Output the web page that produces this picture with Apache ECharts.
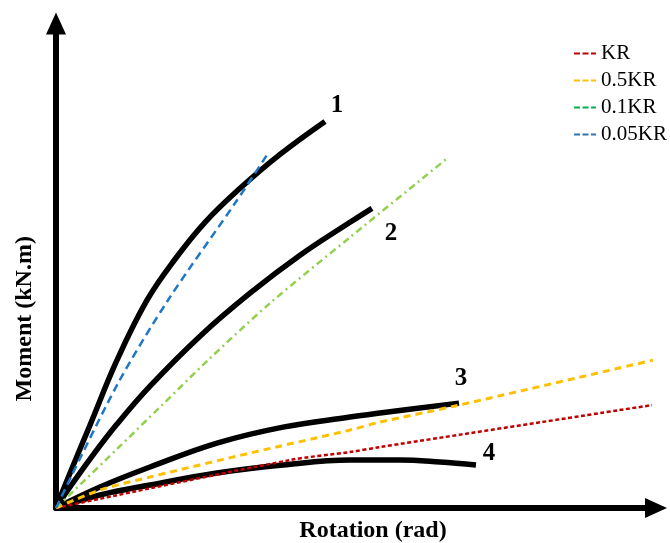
<!DOCTYPE html>
<html><head><meta charset="utf-8">
<script src="https://cdn.jsdelivr.net/npm/echarts@6/dist/echarts.min.js"></script>
<style>html,body{margin:0;padding:0;background:#fff}#c{width:670px;height:543px}</style>
</head><body><div id="c"></div>
<script>
// Moment-rotation curves (arbitrary units)
const curve1 = [[0,0],[1.2,3.0],[3.4,8.3],[6.1,14.8],[9.1,20.8],[11.9,24.9],[14.9,28.6],[18.4,32.0],[22.4,35.4],[26.9,38.7]];
const curve2 = [[0,0],[1.4,2.1],[3.4,4.9],[6.1,8.4],[9.4,12.2],[14.4,17.2],[19.4,21.5],[24.4,25.3],[29.4,28.6],[31.6,30.0]];
const curve3 = [[0,0],[4.4,2.1],[9.4,4.1],[16.1,6.5],[22.7,8.1],[29.4,9.1],[32.4,9.5],[40.3,10.5]];
const curve4 = [[0,0],[4.4,1.3],[9.4,2.3],[16.1,3.5],[22.7,4.3],[29.4,4.8],[34.4,4.8],[38.4,4.6],[42.0,4.3]];
// Stiffness lines
const lineKR   = [[0,0],[23.4,4.8],[29.4,5.6],[32.4,6.1],[59.6,10.3]];
const line05KR = [[0,0],[4.4,1.8],[9.4,3.1],[19.4,5.5],[29.4,7.8],[32.4,8.6],[40.3,10.3],[59.7,14.8]];
const line01KR = [[0,0],[6.1,5.9],[10.4,10.1],[15.1,14.7],[21.4,20.5],[29.4,27.1],[39.0,34.9]];
const line005KR= [[0,0],[6.1,12.3],[11.2,20.8],[18.1,30.8],[21.2,35.5]];
const legendNames = ['KR','0.5KR','0.1KR','0.05KR'];
const curveLabels = ['1','2','3','4'];

const serif = "'Liberation Serif','Times New Roman',serif";
const chart = echarts.init(document.getElementById('c'), null, {renderer:'canvas'});

function curve(data, label, offset){
  return {
    type:'line', data:data, smooth:0.4, symbol:'none', z:2,
    lineStyle:{color:'#000', width:5.5, cap:'butt'},
    emphasis:{disabled:true}, silent:true,
    markPoint:{
      symbol:'circle', symbolSize:1, itemStyle:{color:'rgba(0,0,0,0)'},
      silent:true,
      label:{show:true, formatter:label, color:'#000', fontFamily:serif, fontWeight:'bold', fontSize:25, offset:offset, align:'center', verticalAlign:'middle'},
      data:[{coord:data[data.length-1]}]
    }
  };
}
function stiff(name, data, color, type, width){
  return {
    name:name, type:'line', data:data, smooth:0.3, symbol:'none', z:3,
    lineStyle:{color:color, width:width, type:type},
    itemStyle:{color:color},
    emphasis:{disabled:true}, silent:true
  };
}
function legItem(name, color){
  return {name:name, itemStyle:{opacity:0}, lineStyle:{color:color, type:[6,2.5], width:2, opacity:1}};
}

chart.setOption({
  animation:false,
  grid:{left:56, right:14, top:23.5, bottom:35, containLabel:false, outerBoundsMode:'none'},
  xAxis:{
    type:'value', min:0, max:60,
    axisLine:{show:true, lineStyle:{color:'#000', width:6}, symbol:['none','triangle'], symbolSize:[20,22]},
    axisTick:{show:false}, axisLabel:{show:false}, splitLine:{show:false},
    name:'Rotation (rad)', nameLocation:'middle', nameGap:11,
    nameTextStyle:{fontFamily:serif, fontWeight:'bold', fontSize:24, color:'#000', padding:[0,0,0,34]}
  },
  yAxis:{
    type:'value', min:0, max:48.5,
    axisLine:{show:true, lineStyle:{color:'#000', width:6}, symbol:['none','triangle'], symbolSize:[20,22]},
    axisTick:{show:false}, axisLabel:{show:false}, splitLine:{show:false},
    name:'Moment (kN.m)', nameLocation:'middle', nameGap:19, nameRotate:90,
    nameTextStyle:{fontFamily:serif, fontWeight:'bold', fontSize:24, color:'#000', padding:[0,106,0,0]}
  },
  legend:{
    orient:'vertical', left:568, top:38, itemWidth:22, itemHeight:10, itemGap:6,
    textStyle:{fontFamily:serif, fontSize:21, color:'#000'},
    data:[
      legItem(legendNames[0], '#c00000'),
      legItem(legendNames[1], '#ffc000'),
      legItem(legendNames[2], '#00b050'),
      legItem(legendNames[3], '#2e75b6')
    ],
    selectedMode:false
  },
  series:[
    curve(curve1, curveLabels[0], [12,-16]),
    curve(curve2, curveLabels[1], [19,25]),
    curve(curve3, curveLabels[2], [2,-25]),
    curve(curve4, curveLabels[3], [13,-11]),
    stiff(legendNames[0], lineKR, '#c00000', [4,2.5], 2.5),
    stiff(legendNames[1], line05KR, '#ffc000', [7,5], 3),
    stiff(legendNames[2], line01KR, '#92d050', [7,4,2,4], 2.5),
    stiff(legendNames[3], line005KR, '#1f77c8', [8,5], 2.5)
  ]
});
</script></body></html>
